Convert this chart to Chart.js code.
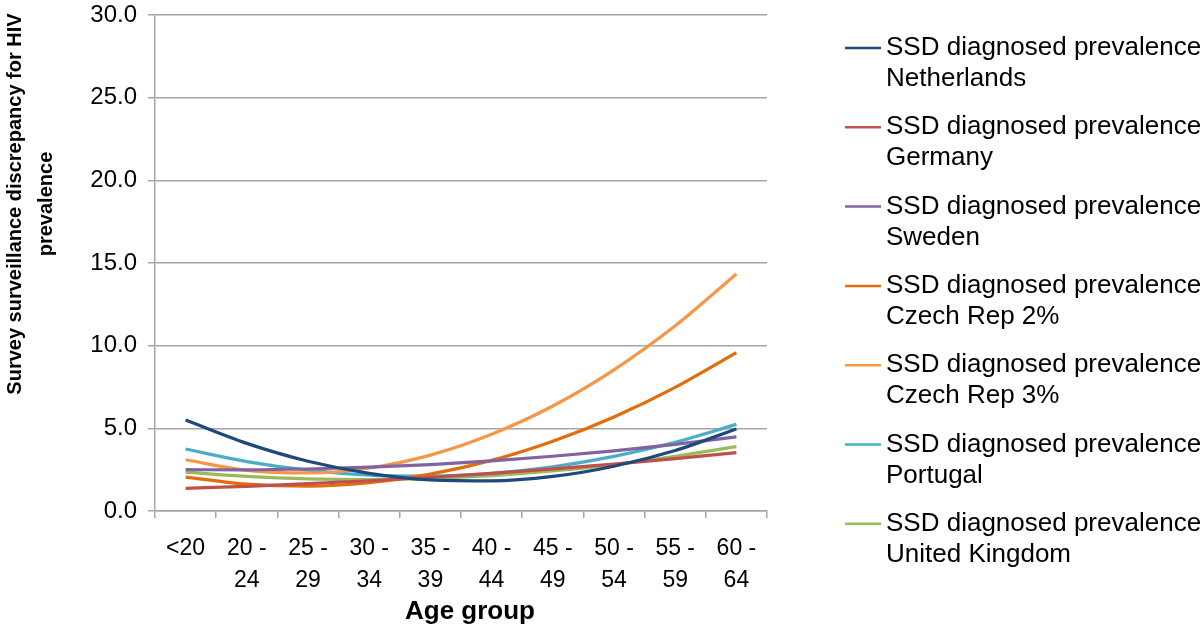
<!DOCTYPE html>
<html>
<head>
<meta charset="utf-8">
<script src="https://cdn.jsdelivr.net/npm/chart.js@4.4.1/dist/chart.umd.min.js"></script>
<style>
  html, body { margin: 0; padding: 0; background: #fff; }
  canvas { display: block; }
</style>
</head>
<body>
<canvas id="myChart" width="1200" height="627"></canvas>
<script>
// values
const ageGroups = ['<20', ['20 -', '24'], ['25 -', '29'], ['30 -', '34'], ['35 -', '39'],
    ['40 -', '44'], ['45 -', '49'], ['50 -', '54'], ['55 -', '59'], ['60 -', '64']];

const netherlands = [5.50, 4.09, 3.01, 2.28, 1.88, 1.82, 2.09, 2.71, 3.66, 4.96];
const germany = [1.37, 1.49, 1.65, 1.83, 2.04, 2.28, 2.55, 2.84, 3.17, 3.53];
const sweden = [2.50, 2.49, 2.54, 2.65, 2.81, 3.03, 3.31, 3.64, 4.03, 4.48];
const czech2 = [2.05, 1.62, 1.50, 1.71, 2.23, 3.06, 4.22, 5.69, 7.48, 9.58];
const czech3 = [3.10, 2.46, 2.30, 2.60, 3.38, 4.64, 6.35, 8.54, 11.20, 14.34];
const portugal = [3.75, 2.99, 2.47, 2.17, 2.11, 2.27, 2.67, 3.30, 4.16, 5.24];
const unitedKingdom = [2.35, 2.09, 1.94, 1.90, 1.97, 2.14, 2.42, 2.81, 3.31, 3.89];

const yTicks = [0, 5, 10, 15, 20, 25, 30];

const legendNames = ['Netherlands', 'Germany', 'Sweden', 'Czech Rep 2%', 'Czech Rep 3%', 'Portugal', 'United Kingdom'];
const lineColors = ['#1F497D', '#C0504D', '#8064A2', '#E46C0A', '#F79646', '#4BACC6', '#9BBB59'];

const FONT = '"Liberation Sans", Arial, sans-serif';
const GRID = '#A6A6A6';

function makeSet(i, values) {
    return {
        label: 'SSD diagnosed prevalence ' + legendNames[i],
        data: values,
        borderColor: lineColors[i],
        backgroundColor: lineColors[i],
        borderWidth: 3.2,
        pointRadius: 0,
        fill: false,
        cubicInterpolationMode: 'monotone'
    };
}

// draws the two-line legend and the axis titles
const extras = {
    id: 'extras',
    afterDraw(chart) {
        const ctx = chart.ctx;
        ctx.save();
        ctx.fillStyle = '#000';

        // legend
        ctx.font = '26px ' + FONT;
        ctx.textAlign = 'left';
        ctx.textBaseline = 'middle';
        chart.data.datasets.forEach((ds, i) => {
            const y = 48 + i * 79.3;
            ctx.strokeStyle = ds.borderColor;
            ctx.lineWidth = 2.5;
            ctx.beginPath();
            ctx.moveTo(845, y);
            ctx.lineTo(881, y);
            ctx.stroke();
            ctx.fillText('SSD diagnosed prevalence', 886, y);
            ctx.fillText(legendNames[i], 886, y + 31);
        });

        // x title
        ctx.font = 'bold 26px ' + FONT;
        ctx.textAlign = 'center';
        ctx.fillText('Age group', 470, 612);

        // y title
        ctx.font = 'bold 20px ' + FONT;
        ctx.textBaseline = 'alphabetic';
        const lines = ['Survey surveillance discrepancy for HIV', 'prevalence'];
        const xs = [21, 52];
        lines.forEach((t, i) => {
            ctx.save();
            ctx.translate(xs[i], 204);
            ctx.rotate(-Math.PI / 2);
            ctx.fillText(t, 0, 0);
            ctx.restore();
        });
        ctx.restore();
    }
};

const ctx = document.getElementById('myChart').getContext('2d');
const myChart = new Chart(ctx, {
    type: 'line',
    data: {
        labels: ageGroups,
        datasets: [
            makeSet(0, netherlands),
            makeSet(1, germany),
            makeSet(2, sweden),
            makeSet(3, czech2),
            makeSet(4, czech3),
            makeSet(5, portugal),
            makeSet(6, unitedKingdom)
        ]
    },
    options: {
        responsive: false,
        animation: false,
        devicePixelRatio: 1,
        layout: {
            padding: { top: 15, right: 433, bottom: 0, left: 0 }
        },
        plugins: {
            legend: { display: false },
            tooltip: { enabled: false }
        },
        scales: {
            x: {
                offset: true,
                grid: {
                    offset: true,
                    drawOnChartArea: false,
                    drawTicks: true,
                    tickLength: 7,
                    color: GRID,
                    lineWidth: 1.5
                },
                border: { color: GRID, width: 1.5 },
                ticks: {
                    color: '#000',
                    font: { family: FONT, size: 23, lineHeight: 1.39 },
                    padding: 15,
                    maxRotation: 0,
                    autoSkip: false
                },
                afterFit: function (scale) {
                    scale.height = 116;
                }
            },
            y: {
                min: 0,
                max: 30,
                afterBuildTicks: function (scale) {
                    scale.ticks = yTicks.map(v => ({ value: v }));
                },
                grid: {
                    color: GRID,
                    lineWidth: 1.5,
                    tickLength: 7
                },
                border: { color: GRID, width: 1.5 },
                ticks: {
                    color: '#000',
                    font: { family: FONT, size: 24 },
                    padding: 11,
                    callback: function (v) {
                        return Number(v).toFixed(1);
                    }
                },
                afterFit: function (scale) {
                    scale.width = 155;
                    scale.paddingTop = 0;
                    scale.paddingBottom = 0;
                }
            }
        }
    },
    plugins: [extras]
});
</script>
</body>
</html>
